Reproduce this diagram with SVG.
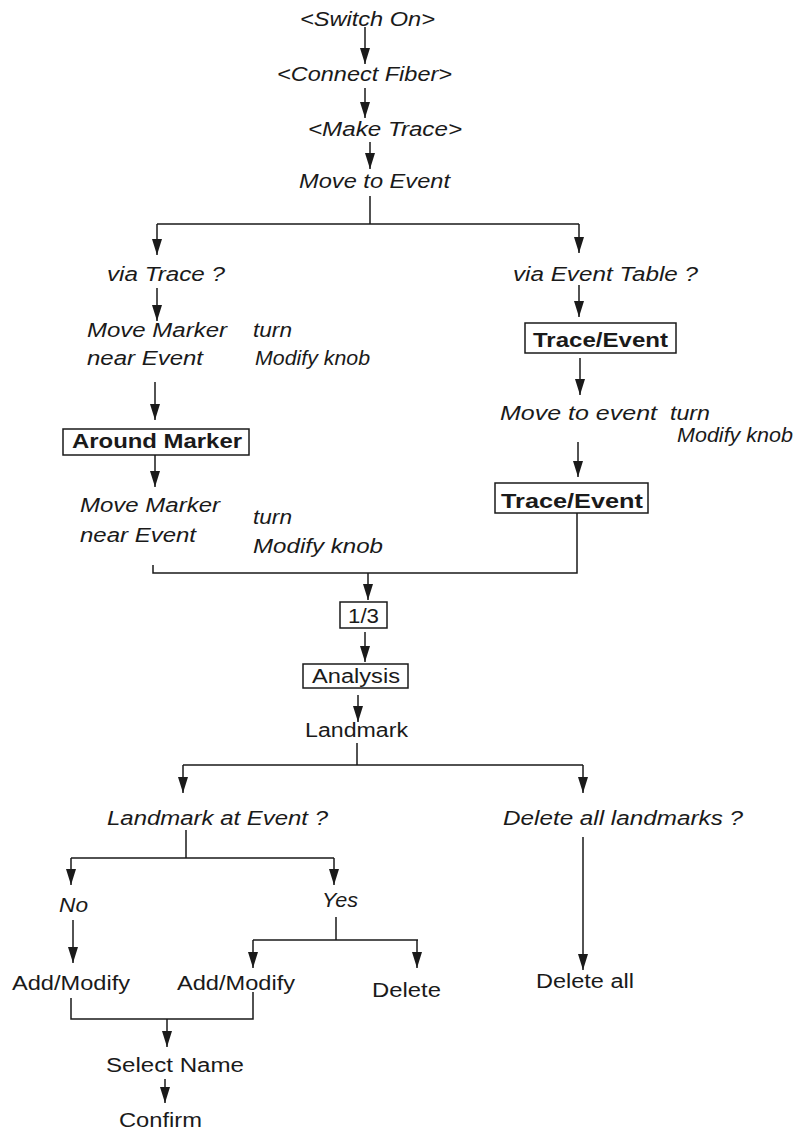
<svg xmlns="http://www.w3.org/2000/svg" width="803" height="1131" viewBox="0 0 803 1131">
<style>
text{font-family:"Liberation Sans",Arial,sans-serif;font-size:20px;fill:#1a1a1a}
.i{font-style:italic}
.b{font-weight:bold}
.c{fill:none;stroke:#1a1a1a;stroke-width:1.5}
.box{fill:#fff;stroke:#1a1a1a;stroke-width:1.5}
</style>
<defs>
<marker id="ah" markerUnits="userSpaceOnUse" markerWidth="20" markerHeight="12" viewBox="-17 -6 18 12" refX="0" refY="0" orient="auto">
<path d="M0,0 L-16,-5 L-16,5 z" fill="#1a1a1a"/>
</marker>
</defs>
<g id="connectors">
<path class="c" d="M365,27 V64" marker-end="url(#ah)"/>
<path class="c" d="M365,88 V118" marker-end="url(#ah)"/>
<path class="c" d="M370,142 V169" marker-end="url(#ah)"/>
<path class="c" d="M370,196 V224 M157,224 H579"/>
<path class="c" d="M157,224 V255" marker-end="url(#ah)"/>
<path class="c" d="M579,224 V253" marker-end="url(#ah)"/>
<path class="c" d="M157,288 V321" marker-end="url(#ah)"/>
<path class="c" d="M155,382 V420" marker-end="url(#ah)"/>
<path class="c" d="M155,455 V487" marker-end="url(#ah)"/>
<path class="c" d="M579,285 V317" marker-end="url(#ah)"/>
<path class="c" d="M580,358 V395" marker-end="url(#ah)"/>
<path class="c" d="M578,442 V477" marker-end="url(#ah)"/>
<path class="c" d="M153,565 V573 H577 V513"/>
<path class="c" d="M368,573 V600" marker-end="url(#ah)"/>
<path class="c" d="M365,632 V662" marker-end="url(#ah)"/>
<path class="c" d="M358,695 V722" marker-end="url(#ah)"/>
<path class="c" d="M357,743 V765 M183,765 H583"/>
<path class="c" d="M183,765 V793" marker-end="url(#ah)"/>
<path class="c" d="M583,765 V793" marker-end="url(#ah)"/>
<path class="c" d="M186,830 V858 M71,858 H334"/>
<path class="c" d="M71,858 V885" marker-end="url(#ah)"/>
<path class="c" d="M334,858 V885" marker-end="url(#ah)"/>
<path class="c" d="M583,837 V970" marker-end="url(#ah)"/>
<path class="c" d="M73,920 V963" marker-end="url(#ah)"/>
<path class="c" d="M336,917 V940 M253,940 H418"/>
<path class="c" d="M253,940 V968" marker-end="url(#ah)"/>
<path class="c" d="M417,940 V968" marker-end="url(#ah)"/>
<path class="c" d="M71,998 V1019 H253 V992"/>
<path class="c" d="M167,1019 V1047" marker-end="url(#ah)"/>
<path class="c" d="M165,1079 V1103" marker-end="url(#ah)"/>
</g>
<g id="switch-on"><text class="i" x="300" y="26" textLength="135" lengthAdjust="spacingAndGlyphs">&lt;Switch On&gt;</text></g>
<g id="connect-fiber"><text class="i" x="277" y="81" textLength="175" lengthAdjust="spacingAndGlyphs">&lt;Connect Fiber&gt;</text></g>
<g id="make-trace"><text class="i" x="308" y="136" textLength="154" lengthAdjust="spacingAndGlyphs">&lt;Make Trace&gt;</text></g>
<g id="move-to-event"><text class="i" x="299" y="188" textLength="151" lengthAdjust="spacingAndGlyphs">Move to Event</text></g>
<g id="via-trace"><text class="i" x="107" y="281" textLength="118" lengthAdjust="spacingAndGlyphs">via Trace ?</text></g>
<g id="via-event-table"><text class="i" x="513" y="281" textLength="185" lengthAdjust="spacingAndGlyphs">via Event Table ?</text></g>
<g id="move-marker-1">
<text class="i" x="87" y="337" textLength="140" lengthAdjust="spacingAndGlyphs">Move Marker</text>
<text class="i" x="87" y="365" textLength="116" lengthAdjust="spacingAndGlyphs">near Event</text>
<text class="i" x="253" y="337" textLength="39" lengthAdjust="spacingAndGlyphs">turn</text>
<text class="i" x="255" y="365" textLength="115" lengthAdjust="spacingAndGlyphs">Modify knob</text>
</g>
<g id="trace-event-1">
<rect class="box" x="525" y="323" width="151" height="30"/>
<text class="b" x="533" y="347" textLength="135" lengthAdjust="spacingAndGlyphs">Trace/Event</text>
</g>
<g id="move-to-event-2">
<text class="i" x="500" y="420" textLength="157" lengthAdjust="spacingAndGlyphs">Move to event</text>
<text class="i" x="670" y="420" textLength="40" lengthAdjust="spacingAndGlyphs">turn</text>
<text class="i" x="677" y="442" textLength="116" lengthAdjust="spacingAndGlyphs">Modify knob</text>
</g>
<g id="trace-event-2">
<rect class="box" x="495" y="483" width="153" height="30"/>
<text class="b" x="501" y="508" textLength="142" lengthAdjust="spacingAndGlyphs">Trace/Event</text>
</g>
<g id="around-marker">
<rect class="box" x="63" y="429" width="186" height="26"/>
<text class="b" x="72" y="448" textLength="170" lengthAdjust="spacingAndGlyphs">Around Marker</text>
</g>
<g id="move-marker-2">
<text class="i" x="80" y="512" textLength="140" lengthAdjust="spacingAndGlyphs">Move Marker</text>
<text class="i" x="80" y="542" textLength="116" lengthAdjust="spacingAndGlyphs">near Event</text>
<text class="i" x="253" y="524" textLength="39" lengthAdjust="spacingAndGlyphs">turn</text>
<text class="i" x="253" y="553" textLength="130" lengthAdjust="spacingAndGlyphs">Modify knob</text>
</g>
<g id="one-third">
<rect class="box" x="340" y="602" width="47" height="26"/>
<text x="348" y="623" textLength="31" lengthAdjust="spacingAndGlyphs">1/3</text>
</g>
<g id="analysis">
<rect class="box" x="303" y="664" width="105" height="24"/>
<text x="312" y="683" textLength="88" lengthAdjust="spacingAndGlyphs">Analysis</text>
</g>
<g id="landmark"><text x="305" y="737" textLength="103" lengthAdjust="spacingAndGlyphs">Landmark</text></g>
<g id="landmark-at-event"><text class="i" x="107" y="825" textLength="221" lengthAdjust="spacingAndGlyphs">Landmark at Event ?</text></g>
<g id="delete-all-landmarks"><text class="i" x="503" y="825" textLength="240" lengthAdjust="spacingAndGlyphs">Delete all landmarks ?</text></g>
<g id="no"><text class="i" x="59" y="912" textLength="29" lengthAdjust="spacingAndGlyphs">No</text></g>
<g id="yes"><text class="i" x="322" y="907" textLength="36" lengthAdjust="spacingAndGlyphs">Yes</text></g>
<g id="add-modify-1"><text x="12" y="990" textLength="118" lengthAdjust="spacingAndGlyphs">Add/Modify</text></g>
<g id="add-modify-2"><text x="177" y="990" textLength="118" lengthAdjust="spacingAndGlyphs">Add/Modify</text></g>
<g id="delete"><text x="372" y="997" textLength="69" lengthAdjust="spacingAndGlyphs">Delete</text></g>
<g id="delete-all"><text x="536" y="988" textLength="98" lengthAdjust="spacingAndGlyphs">Delete all</text></g>
<g id="select-name"><text x="106" y="1072" textLength="138" lengthAdjust="spacingAndGlyphs">Select Name</text></g>
<g id="confirm"><text x="119" y="1127" textLength="83" lengthAdjust="spacingAndGlyphs">Confirm</text></g>
</svg>
